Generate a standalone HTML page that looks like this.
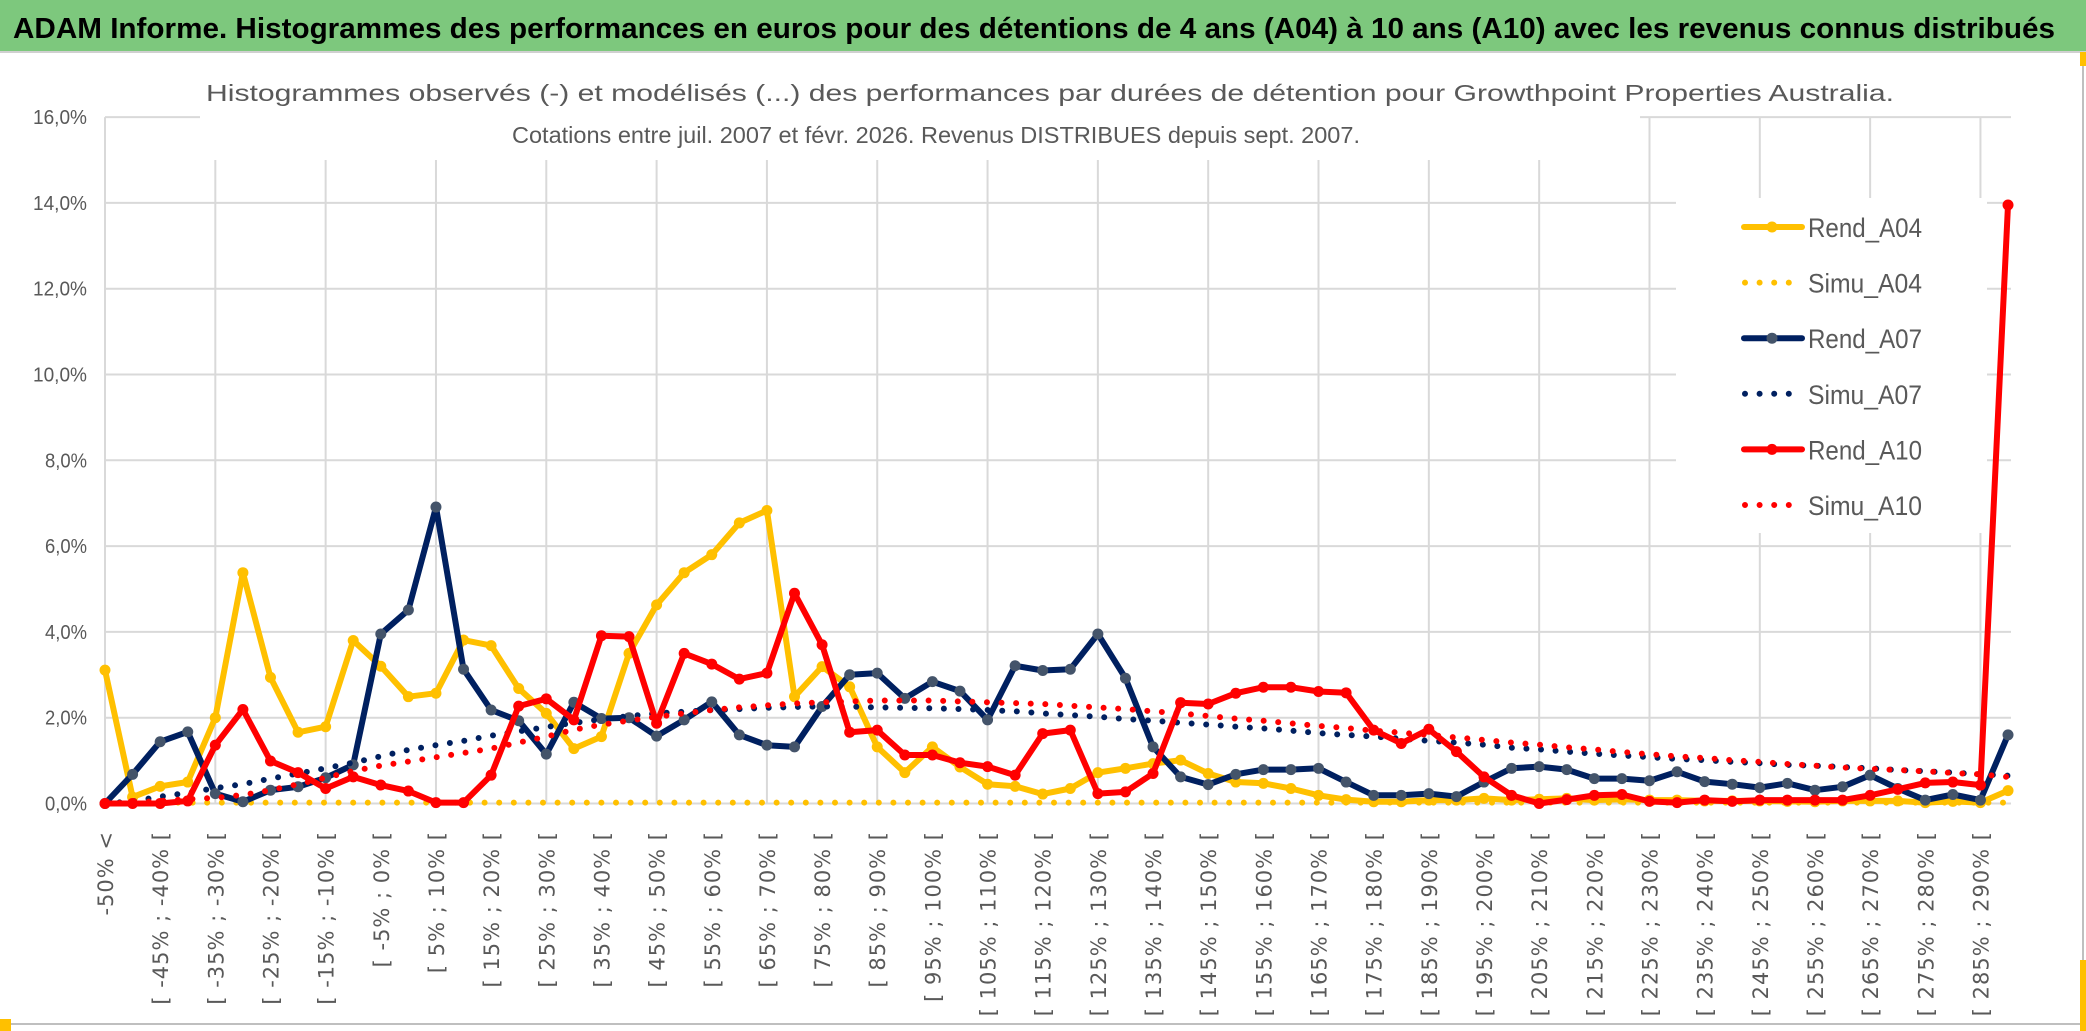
<!DOCTYPE html>
<html><head><meta charset="utf-8"><style>
html,body{margin:0;padding:0;background:#fff;}
svg{display:block;}
</style></head><body>
<svg id="chart" width="2086" height="1031" viewBox="0 0 2086 1031" xmlns="http://www.w3.org/2000/svg">
  <rect x="0" y="0" width="2086" height="1031" fill="#ffffff"/>
  <rect x="0" y="0" width="2086" height="51" fill="#7dc87d"/>
  <line x1="0" y1="52" x2="2086" y2="52" stroke="#d0d0d0" stroke-width="2"/>
  <text x="13" y="38" font-family="Liberation Sans, sans-serif" font-weight="bold" font-size="29" fill="#000" textLength="2042" lengthAdjust="spacingAndGlyphs">ADAM Informe. Histogrammes des performances en euros pour des détentions de 4 ans (A04) à 10 ans (A10) avec les revenus connus distribués</text>
  <line x1="2083" y1="52" x2="2083" y2="1025" stroke="#bfbfbf" stroke-width="2"/>
  <line x1="0" y1="1024" x2="2084" y2="1024" stroke="#bfbfbf" stroke-width="2"/>
  <rect x="0" y="1019" width="11" height="12" fill="#ffc000"/>
  <rect x="2080" y="52" width="6" height="14" fill="#ffc000"/>
  <rect x="2080" y="960" width="6" height="71" fill="#ffc000"/>
  <g id="grid"></g>
  <g id="ylabels"></g>
  <g id="xlabels"></g>
  <rect x="200" y="60" width="1440" height="100" fill="#fff"/>
  <text x="206" y="101" font-family="Liberation Sans, sans-serif" font-size="23" fill="#595959" textLength="1688" lengthAdjust="spacingAndGlyphs">Histogrammes observés (-) et modélisés (...) des performances par durées de détention pour Growthpoint Properties Australia.</text>
  <text x="512" y="143" font-family="Liberation Sans, sans-serif" font-size="23" fill="#595959" textLength="848" lengthAdjust="spacingAndGlyphs">Cotations entre juil. 2007 et févr. 2026. Revenus DISTRIBUES depuis sept. 2007.</text>
  <g id="series"></g>
  <g id="legend">
    <rect x="1676" y="198" width="311" height="335" fill="#fff"/>
  </g>
</svg>
<script>
const categoriesCount = 70;
const yTicks = [0, 2, 4, 6, 8, 10, 12, 14, 16];
const yTickLabels = ["0,0%", "2,0%", "4,0%", "6,0%", "8,0%", "10,0%", "12,0%", "14,0%", "16,0%"];
const rendA04 = [3.11,0.15,0.4,0.5,2.0,5.38,2.94,1.66,1.79,3.8,3.2,2.49,2.57,3.81,3.68,2.68,2.1,1.28,1.56,3.5,4.63,5.38,5.8,6.54,6.83,2.49,3.19,2.72,1.32,0.72,1.32,0.85,0.45,0.4,0.22,0.35,0.72,0.82,0.93,1.01,0.7,0.5,0.47,0.35,0.19,0.09,0.04,0.04,0.08,0.08,0.12,0.08,0.1,0.12,0.08,0.1,0.08,0.08,0.06,0.06,0.06,0.05,0.04,0.06,0.06,0.06,0.02,0.05,0.02,0.3];
const simuA04 = [0.02,0.02,0.02,0.02,0.02,0.02,0.02,0.02,0.02,0.02,0.02,0.02,0.02,0.02,0.02,0.02,0.02,0.02,0.02,0.02,0.02,0.02,0.02,0.02,0.02,0.02,0.02,0.02,0.02,0.02,0.02,0.02,0.02,0.02,0.02,0.02,0.02,0.02,0.02,0.02,0.02,0.02,0.02,0.02,0.02,0.02,0.02,0.02,0.02,0.02,0.02,0.02,0.02,0.02,0.02,0.02,0.02,0.02,0.02,0.02,0.02,0.02,0.02,0.02,0.02,0.02,0.02,0.02,0.02,0.02];
const rendA07 = [0,0.68,1.44,1.67,0.23,0.04,0.31,0.39,0.6,0.9,3.95,4.51,6.91,3.13,2.18,1.93,1.15,2.36,1.98,2.0,1.57,1.95,2.37,1.6,1.36,1.32,2.26,3.0,3.04,2.45,2.84,2.62,1.95,3.21,3.1,3.13,3.95,2.92,1.32,0.62,0.44,0.68,0.79,0.79,0.82,0.5,0.19,0.19,0.23,0.16,0.5,0.82,0.86,0.79,0.58,0.58,0.53,0.74,0.51,0.45,0.37,0.47,0.31,0.39,0.66,0.35,0.08,0.21,0.08,1.6];
const simuA07 = [0,0.05,0.16,0.25,0.36,0.45,0.58,0.7,0.82,0.95,1.1,1.25,1.36,1.46,1.58,1.68,1.78,1.88,1.96,2.04,2.1,2.14,2.18,2.2,2.23,2.25,2.26,2.26,2.24,2.23,2.22,2.2,2.18,2.15,2.1,2.06,2.02,1.97,1.93,1.88,1.84,1.79,1.75,1.7,1.64,1.6,1.56,1.51,1.46,1.42,1.37,1.3,1.26,1.21,1.16,1.12,1.08,1.04,1.01,0.97,0.94,0.9,0.88,0.85,0.82,0.78,0.75,0.72,0.68,0.65];
const rendA10 = [0,0,0,0.06,1.36,2.19,0.99,0.72,0.35,0.62,0.43,0.29,0.02,0.02,0.66,2.27,2.44,1.95,3.91,3.89,1.87,3.5,3.25,2.9,3.04,4.9,3.7,1.66,1.71,1.13,1.13,0.95,0.86,0.66,1.63,1.71,0.23,0.27,0.7,2.35,2.32,2.57,2.71,2.71,2.61,2.58,1.71,1.4,1.73,1.21,0.62,0.19,0,0.09,0.19,0.21,0.05,0.02,0.08,0.05,0.08,0.08,0.08,0.08,0.19,0.33,0.48,0.5,0.43,13.95];
const simuA10 = [0,0.02,0.06,0.1,0.13,0.2,0.31,0.45,0.6,0.76,0.88,0.98,1.08,1.18,1.28,1.42,1.56,1.72,1.84,1.93,2.02,2.1,2.18,2.24,2.29,2.33,2.36,2.38,2.4,2.4,2.4,2.38,2.36,2.34,2.32,2.28,2.24,2.2,2.15,2.1,2.04,1.98,1.93,1.87,1.81,1.76,1.7,1.65,1.6,1.54,1.48,1.42,1.37,1.31,1.26,1.2,1.15,1.1,1.06,1.01,0.97,0.92,0.88,0.84,0.81,0.78,0.75,0.71,0.68,0.62];

const NS = "http://www.w3.org/2000/svg";
const X0 = 105, XSTEP = 27.58, XEND = 2011;
const Y0 = 803.5, YPER = 42.9;
function xPos(i){ return X0 + i * XSTEP; }
function yPos(v){ return Y0 - v * YPER; }
function mk(tag, attrs){ const e = document.createElementNS(NS, tag); for (const k in attrs) e.setAttribute(k, attrs[k]); return e; }
function catLabel(i){
  if (i === 0) return "-50% <";
  const a = -50 + 5 * (i - 1);
  return "[ " + a + "% ; " + (a + 5) + "% [";
}

const grid = document.getElementById("grid");
yTicks.forEach((t) => {
  const l = mk("line", {x1: X0, x2: XEND, y1: yPos(t), y2: yPos(t), stroke: "#d9d9d9", "stroke-width": 2});
  
  
  grid.appendChild(l);
});
for (let i = 0; i < categoriesCount; i += 4) {
  const l = mk("line", {x1: xPos(i), x2: xPos(i), y1: yPos(16), y2: Y0, stroke: "#d9d9d9", "stroke-width": 2});
  
  
  grid.appendChild(l);
}

const yl = document.getElementById("ylabels");
yTicks.forEach((t, k) => {
  const s = yTickLabels[k];
  const tx = mk("text", {x: 87, y: yPos(t) + 7, "text-anchor": "end", "font-family": "Liberation Sans, sans-serif", "font-size": 20, fill: "#595959", textLength: s.length > 4 ? 54 : 42, lengthAdjust: "spacingAndGlyphs"});
  tx.textContent = s;
  
  
  yl.appendChild(tx);
});

const xl = document.getElementById("xlabels");
for (let i = 0; i < categoriesCount; i++) {
  if (i % 2 === 1) continue;
  const tx = mk("text", {transform: "translate(" + (xPos(i) + 8) + ",831) rotate(-90)", "text-anchor": "end", "font-family": "DejaVu Sans, sans-serif", "font-size": 21, "letter-spacing": 1, fill: "#595959"});
  tx.textContent = catLabel(i);
  
  
  xl.appendChild(tx);
}

const series = document.getElementById("series");
function pts(arr){ return arr.map((v, i) => xPos(i).toFixed(1) + "," + yPos(v).toFixed(1)).join(" "); }
function drawRend(arr, color, markerFill, name){
  const g = mk("g", {});
  
  
  const pl = mk("polyline", {points: pts(arr), fill: "none", stroke: color, "stroke-width": 6, "stroke-linejoin": "round"});
  
  
  g.appendChild(pl);
  arr.forEach((v, i) => {
    const c = mk("circle", {cx: xPos(i), cy: yPos(v), r: 5.5, fill: markerFill});
    
    
    g.appendChild(c);
  });
  series.appendChild(g);
}
function drawSimu(arr, color, name){
  const pl = mk("polyline", {points: pts(arr), fill: "none", stroke: color, "stroke-width": 6, "stroke-linecap": "round", "stroke-dasharray": "0 14.6"});
  
  
  series.appendChild(pl);
}
drawRend(rendA04, "#ffc000", "#ffc000", "rend-a04");
drawSimu(simuA04, "#ffc000", "simu-a04");
drawRend(rendA07, "#002060", "#44546a", "rend-a07");
drawSimu(simuA07, "#002060", "simu-a07");
drawRend(rendA10, "#ff0000", "#ff0000", "rend-a10");
drawSimu(simuA10, "#ff0000", "simu-a10");

const legend = document.getElementById("legend");
const legendNames = ["Rend_A04", "Simu_A04", "Rend_A07", "Simu_A07", "Rend_A10", "Simu_A10"];
const legendColors = ["#ffc000", "#ffc000", "#002060", "#002060", "#ff0000", "#ff0000"];
const legendMarkers = ["#ffc000", null, "#44546a", null, "#ff0000", null];
legendNames.forEach((nm, k) => {
  const cy = 227 + k * 55.6;
  const g = mk("g", {});
  
  
  if (legendMarkers[k]) {
    const l = mk("line", {x1: 1744, x2: 1802, y1: cy, y2: cy, stroke: legendColors[k], "stroke-width": 6, "stroke-linecap": "round"});
    
    
    g.appendChild(l);
    const c = mk("circle", {cx: 1772, cy: cy, r: 5.5, fill: legendMarkers[k]});
    
    
    g.appendChild(c);
  } else {
    const l = mk("line", {x1: 1745, x2: k === 5 ? 1801 : 1792, y1: cy, y2: cy, stroke: legendColors[k], "stroke-width": 6, "stroke-linecap": "round", "stroke-dasharray": "0 14.6"});
    
    
    g.appendChild(l);
  }
  const t = mk("text", {x: 1808, y: cy + 10, "font-family": "Liberation Sans, sans-serif", "font-size": 27, fill: "#595959", textLength: 114, lengthAdjust: "spacingAndGlyphs"});
  t.textContent = nm;
  
  
  g.appendChild(t);
  legend.appendChild(g);
});
</script>
</body></html>
